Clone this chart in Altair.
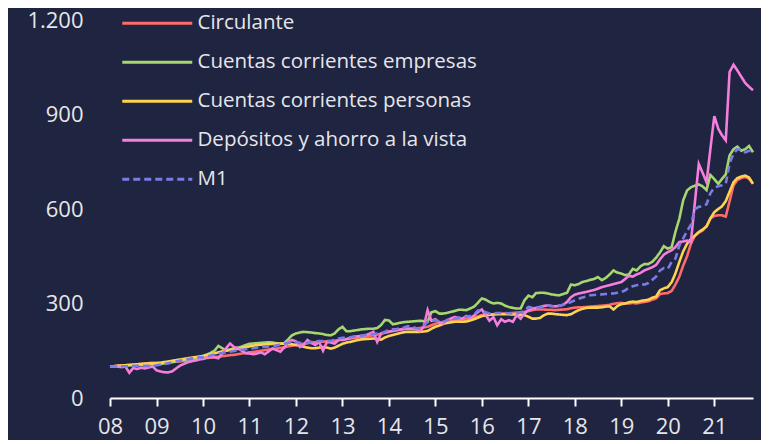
import altair as alt
import pandas as pd

series_names = ["Circulante", "Cuentas corrientes empresas", "Cuentas corrientes personas",
                "Depósitos y ahorro a la vista", "M1"]
series_colors = ["#ff6b6b", "#a6d66f", "#ffd24f", "#f47fdc", "#7b7be6"]
series_dash = [[1, 0], [1, 0], [1, 0], [1, 0], [7, 4]]

start_date = "2008-01-01"  # monthly, Jan 2008 .. Nov 2021

circulante = [
    100, 101, 102, 103, 104, 105, 106, 107, 108, 109, 111, 112,
    112, 111, 112, 113, 114, 115, 116, 118, 119, 121, 123, 125,
    126, 127, 128, 130, 131, 133, 134, 136, 137, 139, 141, 143,
    145, 146, 148, 150, 152, 154, 156, 157, 159, 161, 164, 166,
    168, 170, 172, 174, 176, 177, 178, 179, 180, 180, 182, 184,
    186, 187, 189, 190, 192, 194, 195, 197, 199, 201, 204, 208,
    211, 213, 215, 218, 220, 220, 220, 221, 222, 224, 226, 231,
    236, 238, 241, 243, 245, 247, 248, 249, 250, 252, 255, 259,
    263, 264, 265, 266, 267, 268, 268, 269, 270, 271, 272, 273,
    276, 279, 281, 281, 281, 280, 280, 279, 280, 281, 282, 285,
    287, 288, 288, 289, 290, 291, 292, 293, 294, 296, 299, 301,
    302, 300, 300, 302, 300, 303, 305, 307, 312, 316, 330, 332,
    333, 340, 360, 385, 420, 450, 490, 515, 525, 532, 545, 570,
    578, 580, 580, 576, 625, 675, 692, 698, 702, 696, 680,
]

empresas = [
    100, 101, 102, 103, 103, 104, 104, 105, 105, 106, 106, 107,
    107, 108, 110, 112, 114, 116, 118, 120, 122, 125, 128, 131,
    134, 138, 143, 150, 165, 158, 152, 154, 157, 160, 163, 168,
    172, 173, 174, 175, 176, 177, 176, 174, 173, 174, 186, 199,
    205, 208, 210, 209, 208, 206, 205, 203, 200, 199, 205, 218,
    226, 212, 212, 214, 216, 218, 219, 220, 220, 222, 232, 248,
    246, 234, 236, 239, 241, 242, 243, 244, 245, 244, 242, 272,
    276, 268, 268, 270, 273, 276, 280, 280, 279, 284, 290, 302,
    316, 312, 305, 300, 302, 300, 293, 289, 286, 284, 284, 310,
    325, 320, 333, 334, 334, 332, 329, 327, 326, 330, 334, 360,
    358, 362, 368, 371, 375, 378, 384, 374, 381, 392, 405, 398,
    395, 390, 392, 410, 405, 418, 425, 425, 432, 445, 462, 482,
    474, 479, 527, 569, 627, 659, 669, 674, 678, 672, 660, 708,
    695, 680, 695, 710, 770, 790, 798, 785, 790, 800, 780,
]

personas = [
    100, 101, 102, 103, 104, 105, 106, 107, 108, 109, 110, 110,
    110, 112, 114, 116, 118, 120, 122, 124, 126, 128, 130, 131,
    133, 136, 139, 142, 145, 148, 150, 152, 154, 156, 158, 161,
    164, 166, 168, 169, 170, 171, 172, 172, 172, 172, 172, 171,
    168, 166, 163, 160, 158, 158, 160, 162, 160, 157, 160, 166,
    172, 176, 178, 181, 184, 186, 187, 188, 189, 187, 185, 192,
    197, 200, 203, 206, 209, 210, 210, 210, 210, 211, 213, 220,
    226, 230, 235, 238, 240, 242, 242, 242, 243, 246, 250, 255,
    260, 262, 264, 265, 266, 266, 266, 266, 265, 265, 264, 263,
    258, 252, 252, 254, 262, 268, 268, 266, 265, 264, 263, 266,
    273, 279, 283, 286, 287, 287, 287, 288, 290, 291, 281, 292,
    298, 300, 304, 306, 305, 308, 310, 312, 318, 322, 342, 348,
    352, 368, 395, 432, 465, 490, 505, 515, 527, 535, 545, 570,
    590, 600, 608, 625, 655, 685, 698, 703, 706, 700, 680,
]

depositos = [
    100, 99, 100, 98, 100, 80, 95, 92, 96, 94, 97, 100,
    88, 84, 82, 81, 84, 93, 102, 108, 113, 116, 119, 122,
    124, 128, 131, 129, 126, 141, 158, 173, 162, 158, 150, 142,
    141, 139, 141, 145, 139, 148, 157, 152, 147, 160, 178, 184,
    180, 162, 168, 184, 175, 168, 178, 150, 178, 176, 173, 184,
    184, 187, 190, 194, 196, 197, 199, 204, 210, 178, 205, 208,
    210, 213, 215, 217, 219, 220, 220, 219, 212, 226, 279, 245,
    250, 240, 236, 247, 252, 257, 254, 252, 260, 253, 262, 273,
    281, 263, 245, 257, 231, 250, 242, 247, 242, 263, 252, 268,
    279, 284, 286, 289, 292, 294, 292, 291, 293, 296, 305, 320,
    328, 332, 334, 337, 340, 343, 347, 352, 355, 358, 362, 365,
    368, 378, 388, 385, 392, 397, 405, 410, 415, 422, 440, 455,
    463, 469, 479, 495, 497, 500, 495, 620, 743, 715, 685, 790,
    895, 855, 835, 818, 1035, 1058, 1040, 1020, 1000, 988, 977,
]

m1 = [
    100, 100, 100, 101, 101, 101, 102, 102, 102, 102, 102, 103,
    104, 106, 108, 110, 113, 116, 118, 121, 123, 125, 127, 129,
    129, 132, 135, 138, 141, 143, 145, 147, 149, 151, 153, 155,
    157, 158, 160, 162, 163, 164, 165, 167, 169, 172, 175, 178,
    178, 175, 173, 175, 178, 180, 181, 181, 182, 181, 185, 189,
    191, 192, 193, 195, 197, 198, 200, 202, 203, 205, 206, 210,
    217, 218, 219, 221, 224, 228, 226, 222, 220, 230, 242, 244,
    247, 243, 242, 246, 250, 252, 255, 257, 258, 260, 265, 278,
    279, 272, 268, 269, 270, 270, 270, 269, 268, 268, 272, 276,
    289, 287, 287, 288, 290, 294, 292, 291, 293, 296, 300, 305,
    310, 315, 319, 322, 326, 327, 328, 329, 330, 331, 332, 334,
    336, 342, 350, 355, 358, 362, 360, 365, 375, 385, 405, 412,
    410, 432, 442, 484, 506, 530, 550, 600, 607, 608, 615, 650,
    668, 672, 675, 680, 745, 775, 790, 788, 780, 785, 783,
]

y_ticks = [0, 300, 600, 900, 1200]
x_years = list(range(2008, 2022))

all_values = [circulante, empresas, personas, depositos, m1]
n = len(circulante)
dates = pd.date_range(start_date, periods=n, freq="MS").strftime("%Y-%m-%d")

frames = []
for name, vals in zip(series_names, all_values):
    frames.append(pd.DataFrame({"fecha": dates, "valor": vals, "serie": name}))
df = pd.concat(frames, ignore_index=True)

bg = "#1f2440"
txt = "#e6e6ea"
font = "Open Sans"

chart = alt.Chart(df).mark_line(strokeWidth=2.6, interpolate="linear").encode(
    x=alt.X(
        "fecha:T",
        title=None,
        scale=alt.Scale(
            type="utc",
            domain=[alt.DateTime(year=2008, month=1, date=1, utc=True),
                    alt.DateTime(year=2021, month=11, date=1, utc=True)],
        ),
        axis=alt.Axis(
            values=[alt.DateTime(year=y, month=1, date=1, utc=True) for y in x_years],
            format="%y",
            grid=False,
            domainColor="#ffffff",
            domainWidth=2,
            tickColor="#ffffff",
            tickWidth=2,
            tickSize=8,
            labelColor=txt,
            labelFont=font,
            labelFontSize=22,
            labelPadding=10,
            labelFlush=False,
        ),
    ),
    y=alt.Y(
        "valor:Q",
        title=None,
        scale=alt.Scale(domain=[0, 1200], nice=False),
        axis=alt.Axis(
            values=y_ticks,
            grid=False,
            domain=False,
            ticks=False,
            tickSize=0,
            labelColor=txt,
            labelFont=font,
            labelFontSize=22,
            labelPadding=27,
            labelExpr="replace(format(datum.value, ','), ',', '.')",
        ),
    ),
    color=alt.Color(
        "serie:N",
        title=None,
        scale=alt.Scale(domain=series_names, range=series_colors),
    ),
    strokeDash=alt.StrokeDash(
        "serie:N",
        title=None,
        scale=alt.Scale(domain=series_names, range=series_dash),
    ),
).properties(
    width=643,
    height=378,
    autosize=alt.AutoSizeParams(type="none"),
    padding={"left": 102, "top": 12, "right": 8, "bottom": 42},
    background=bg,
).configure_view(
    stroke=None,
).configure_legend(
    orient="none",
    legendX=37,
    legendY=-7,
    symbolType="M-5,0H5",
    symbolSize=196,
    symbolStrokeWidth=3,
    labelColor=txt,
    labelFont=font,
    labelFontSize=20.5,
    labelLimit=400,
    rowPadding=18,
    labelOffset=30,
)

chart.save("out.html", embed_options={"renderer": "svg", "actions": False})
